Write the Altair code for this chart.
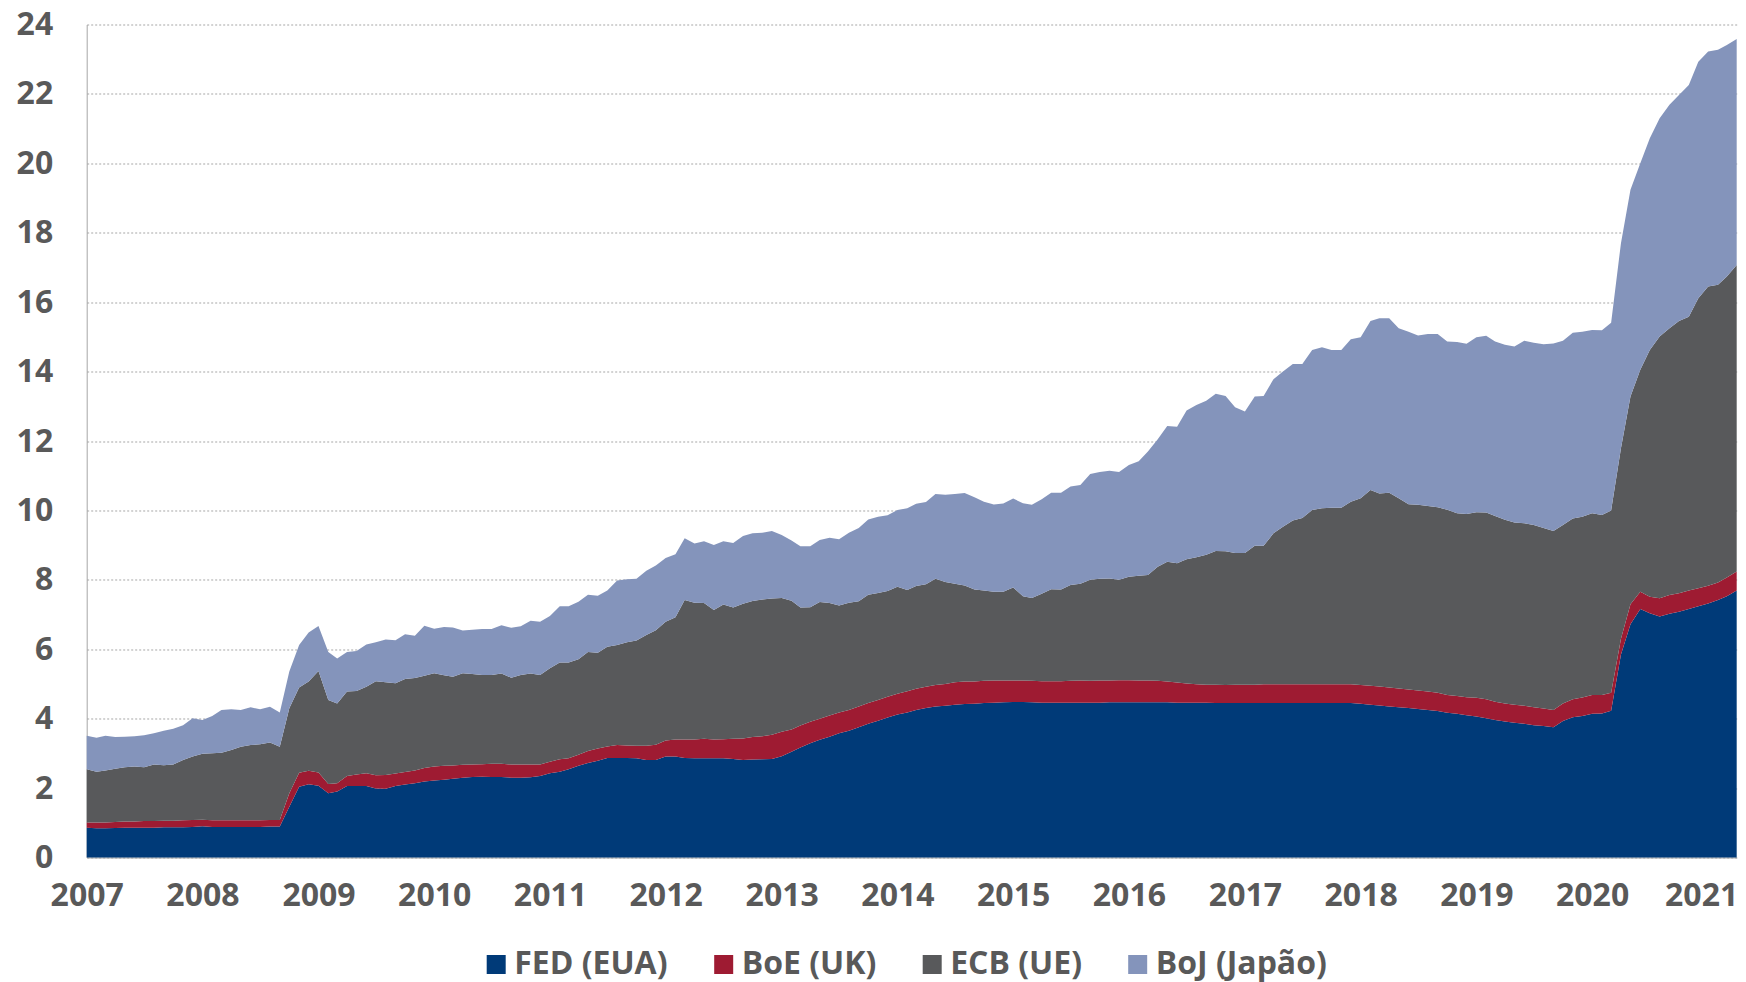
import altair as alt
import pandas as pd

# ---- data (trillions), monthly Jan 2007 .. Apr 2021 ----
start_month = "2007-01-01"
n_months = 172

fed = [
    0.86, 0.84, 0.84, 0.85, 0.86, 0.86, 0.86, 0.86, 0.87, 0.87, 0.87, 0.88,
    0.90, 0.88, 0.88, 0.88, 0.88, 0.88, 0.88, 0.89, 0.89,
    1.46, 2.04, 2.11, 2.07, 1.85, 1.90, 2.06, 2.06, 2.06, 1.99, 1.98, 2.06, 2.10, 2.14, 2.19,
    2.22, 2.24, 2.27, 2.30, 2.32, 2.33, 2.32, 2.32, 2.30, 2.30, 2.31, 2.35, 2.43, 2.47, 2.54,
    2.64, 2.72, 2.79, 2.87, 2.87, 2.87, 2.86, 2.81, 2.81, 2.91, 2.91, 2.87, 2.86, 2.86, 2.86,
    2.86, 2.84, 2.81, 2.82, 2.83,
    2.84, 2.92, 3.05, 3.17, 3.29, 3.39, 3.48, 3.58, 3.65, 3.75, 3.85, 3.94, 4.03, 4.12, 4.18,
    4.25, 4.31, 4.35, 4.37, 4.40, 4.42, 4.43, 4.45, 4.46, 4.47, 4.48, 4.48, 4.47, 4.46, 4.46,
    4.46, 4.46, 4.46, 4.46, 4.46, 4.47,
    4.47, 4.47, 4.47, 4.47, 4.47, 4.47, 4.46, 4.46, 4.46, 4.46, 4.45, 4.45, 4.45, 4.45, 4.45,
    4.45, 4.45, 4.45, 4.45, 4.45, 4.45, 4.45, 4.45, 4.45, 4.45, 4.43, 4.40, 4.38, 4.35, 4.33,
    4.31, 4.28, 4.25, 4.22,
    4.17, 4.14, 4.10, 4.06, 4.01, 3.96, 3.92, 3.88, 3.85, 3.81, 3.79, 3.75, 3.93, 4.04, 4.08,
    4.14, 4.15, 4.23, 5.85, 6.72, 7.16, 7.04, 6.94, 7.02, 7.08, 7.16, 7.24, 7.32, 7.42, 7.53,
    7.69,
]

boe = [
    0.15, 0.17, 0.17, 0.17, 0.18, 0.18, 0.19, 0.19, 0.19, 0.19, 0.20, 0.20,
    0.19, 0.19, 0.19, 0.19, 0.19, 0.19, 0.19, 0.19, 0.19,
    0.39, 0.40, 0.39, 0.38, 0.27, 0.24, 0.29, 0.33, 0.37, 0.38, 0.40, 0.36, 0.36, 0.37, 0.39,
    0.40, 0.40, 0.38, 0.37, 0.36, 0.36, 0.38, 0.38, 0.38, 0.38, 0.37, 0.33, 0.33, 0.36, 0.32,
    0.32, 0.35, 0.35, 0.33, 0.37, 0.36, 0.36, 0.41, 0.44, 0.46, 0.49, 0.53, 0.54, 0.56, 0.54,
    0.55, 0.58, 0.62, 0.65, 0.66,
    0.70, 0.70, 0.64, 0.63, 0.62, 0.61, 0.61, 0.60, 0.60, 0.60, 0.60, 0.60, 0.60, 0.60, 0.61,
    0.61, 0.61, 0.62, 0.63, 0.65, 0.65, 0.64, 0.64, 0.64, 0.63, 0.62, 0.62, 0.62, 0.62, 0.62,
    0.62, 0.63, 0.64, 0.63, 0.64, 0.63,
    0.64, 0.64, 0.63, 0.63, 0.62, 0.60, 0.58, 0.55, 0.53, 0.52, 0.53, 0.52, 0.53, 0.53, 0.53,
    0.54, 0.54, 0.54, 0.54, 0.54, 0.54, 0.54, 0.54, 0.54, 0.54, 0.54, 0.55, 0.55, 0.55, 0.54,
    0.53, 0.53, 0.53, 0.53,
    0.51, 0.51, 0.52, 0.54, 0.55, 0.53, 0.52, 0.52, 0.52, 0.52, 0.50, 0.50, 0.51, 0.52, 0.53,
    0.54, 0.53, 0.52, 0.45, 0.58, 0.50, 0.47, 0.53, 0.54, 0.53, 0.53, 0.52, 0.51, 0.50, 0.54,
    0.55,
]

ecb = [
    1.53, 1.46, 1.50, 1.54, 1.56, 1.58, 1.55, 1.63, 1.60, 1.62, 1.74, 1.83,
    1.90, 1.93, 1.95, 2.03, 2.12, 2.17, 2.19, 2.23, 2.11,
    2.45, 2.46, 2.57, 2.92, 2.42, 2.30, 2.43, 2.41, 2.49, 2.71, 2.67, 2.60, 2.68, 2.66, 2.66,
    2.69, 2.61, 2.56, 2.64, 2.61, 2.57, 2.56, 2.60, 2.50, 2.58, 2.62, 2.58, 2.69, 2.79, 2.76,
    2.75, 2.85, 2.76, 2.87, 2.88, 2.97, 3.03, 3.19, 3.30, 3.42, 3.52, 4.02, 3.94, 3.91, 3.73,
    3.88, 3.78, 3.88, 3.92, 3.94,
    3.92, 3.86, 3.71, 3.40, 3.30, 3.36, 3.24, 3.08, 3.09, 3.03, 3.12, 3.08, 3.05, 3.08, 2.92,
    2.96, 2.95, 3.06, 2.94, 2.84, 2.77, 2.65, 2.60, 2.56, 2.56, 2.68, 2.43, 2.39, 2.52, 2.65,
    2.64, 2.76, 2.79, 2.91, 2.93, 2.94,
    2.89, 2.98, 3.02, 3.04, 3.29, 3.45, 3.44, 3.58, 3.66, 3.74, 3.85, 3.85, 3.79, 3.79, 4.00,
    3.99, 4.35, 4.54, 4.72, 4.79, 5.02, 5.07, 5.09, 5.09, 5.26, 5.38, 5.64, 5.56, 5.61, 5.48,
    5.34, 5.35, 5.35, 5.34,
    5.34, 5.27, 5.28, 5.35, 5.38, 5.35, 5.29, 5.25, 5.26, 5.25, 5.20, 5.16, 5.14, 5.21, 5.21,
    5.24, 5.19, 5.25, 5.49, 5.98, 6.39, 7.11, 7.54, 7.69, 7.85, 7.89, 8.35, 8.62, 8.58, 8.67,
    8.83,
]

boj = [
    0.97, 0.98, 1.00, 0.91, 0.88, 0.87, 0.92, 0.90, 0.99, 1.03, 1.00, 1.10,
    0.97, 1.08, 1.23, 1.17, 1.06, 1.09, 1.01, 1.03, 0.99,
    1.06, 1.22, 1.41, 1.30, 1.38, 1.29, 1.14, 1.15, 1.22, 1.12, 1.23, 1.24, 1.29, 1.22, 1.44,
    1.28, 1.39, 1.42, 1.23, 1.27, 1.32, 1.32, 1.39, 1.44, 1.40, 1.52, 1.53, 1.51, 1.62, 1.62,
    1.66, 1.65, 1.64, 1.62, 1.86, 1.82, 1.78, 1.85, 1.86, 1.84, 1.82, 1.78, 1.71, 1.78, 1.87,
    1.82, 1.86, 1.95, 1.95, 1.93,
    1.95, 1.81, 1.73, 1.77, 1.76, 1.79, 1.88, 1.91, 2.02, 2.11, 2.17, 2.20, 2.18, 2.21, 2.35,
    2.37, 2.37, 2.44, 2.51, 2.58, 2.66, 2.66, 2.56, 2.51, 2.54, 2.56, 2.68, 2.68, 2.72, 2.78,
    2.79, 2.84, 2.84, 3.05, 3.08, 3.10,
    3.11, 3.22, 3.30, 3.56, 3.67, 3.91, 3.93, 4.29, 4.39, 4.44, 4.53, 4.48, 4.20, 4.08, 4.30,
    4.32, 4.44, 4.47, 4.51, 4.44, 4.61, 4.64, 4.54, 4.54, 4.68, 4.64, 4.87, 5.05, 5.03, 4.90,
    4.97, 4.88, 4.95, 4.99,
    4.85, 4.93, 4.90, 5.04, 5.09, 5.03, 5.04, 5.07, 5.26, 5.25, 5.30, 5.40, 5.31, 5.35, 5.33,
    5.28, 5.32, 5.41, 5.91, 5.96, 5.95, 6.10, 6.29, 6.44, 6.51, 6.68, 6.82, 6.77, 6.77, 6.67,
    6.51,
]

banks = ["FED (EUA)", "BoE (UK)", "ECB (UE)", "BoJ (Japão)"]
colors = ["#003A78", "#9E1B32", "#58595B", "#8494BB"]
year_ticks = list(range(2007, 2022))
y_ticks = list(range(0, 25, 2))

for s in (fed, boe, ecb, boj):
    assert len(s) == n_months, len(s)

months = pd.date_range(start_month, periods=n_months, freq="MS")
rows = []
for k, (name, series) in enumerate(zip(banks, [fed, boe, ecb, boj])):
    for d, v in zip(months, series):
        rows.append({"date": d, "bank": name, "value": v, "k": k})
df = pd.DataFrame(rows)

FONT = "Open Sans"
TXT = "#595959"

chart = (
    alt.Chart(df)
    .mark_area(interpolate="linear", opacity=1)
    .encode(
        x=alt.X(
            "date:T",
            scale=alt.Scale(
                domain=[alt.DateTime(year=2007, month=1, date=1),
                        alt.DateTime(year=2021, month=4, date=1)],
                nice=False,
            ),
            axis=alt.Axis(
                values=[alt.DateTime(year=y, month=1, date=1) for y in year_ticks],
                format="%Y",
                title=None,
                grid=False,
                ticks=False,
                domain=True,
                domainColor="#a6a6a6",
                domainWidth=1,
                labelFont=FONT,
                labelFontSize=32,
                labelFontWeight="bold",
                labelColor=TXT,
                labelPadding=23,
                labelFlush=False,
                labelOverlap=False,
                # keep the last year label inside the page's right edge
                labelOffset={"condition": {"test": "year(datum.value) == 2021", "value": -7},
                             "value": 0},
            ),
        ),
        y=alt.Y(
            "value:Q",
            stack="zero",
            scale=alt.Scale(domain=[0, 24], nice=False),
            axis=alt.Axis(
                values=y_ticks,
                title=None,
                grid=True,
                gridColor="#a6a6a6",
                gridDash=[2, 2],
                gridWidth=1,
                ticks=False,
                domain=True,
                domainColor="#a6a6a6",
                domainWidth=1,
                labelFont=FONT,
                labelFontSize=32,
                labelFontWeight="bold",
                labelColor=TXT,
                labelPadding=34,
                labelFlush=False,
            ),
        ),
        color=alt.Color(
            "bank:N",
            scale=alt.Scale(domain=banks, range=colors),
            legend=alt.Legend(
                title=None,
                orient="none",
                legendX=393.5,
                legendY=924,
                direction="horizontal",
                symbolType="square",
                symbolSize=361,
                symbolStrokeWidth=0,
                symbolOpacity=1,
                labelFont=FONT,
                labelFontSize=32,
                labelFontWeight="bold",
                labelColor=TXT,
                labelOffset=2,
                labelLimit=0,
                columnPadding=39.5,
            ),
        ),
        order=alt.Order("k:Q", sort="ascending"),
    )
    .properties(
        width=1650,
        height=833,
        autosize=alt.AutoSizeParams(type="none"),
        padding={"left": 78.7, "top": 16.5, "right": 1, "bottom": 130},
    )
    .configure_view(stroke=None)
)

chart.save("out.html", embed_options={"renderer": "svg", "actions": False})
